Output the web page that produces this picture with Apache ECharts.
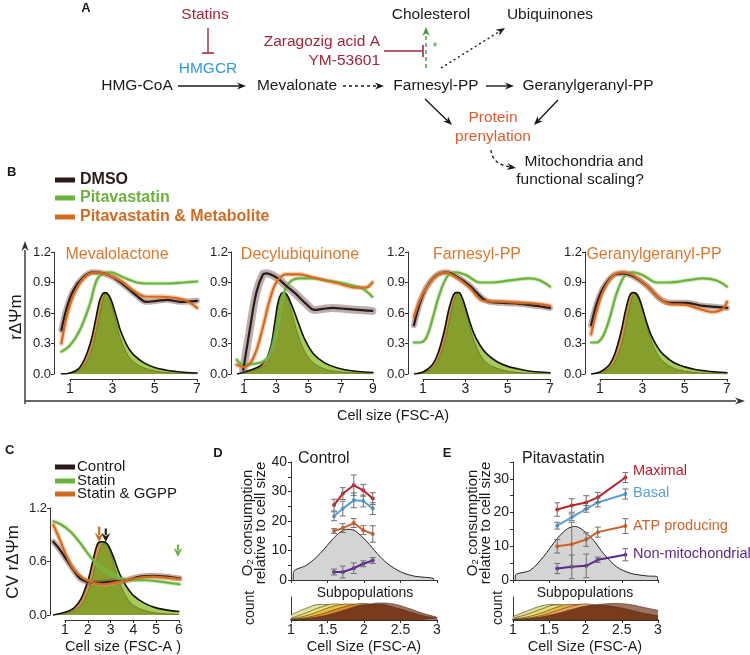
<!DOCTYPE html>
<html><head><meta charset="utf-8">
<script src="https://cdn.jsdelivr.net/npm/echarts/dist/echarts.min.js"></script>
<style>html,body{margin:0;padding:0;background:#fff;}#chart{width:750px;height:655px;}</style>
</head><body><div id="chart"></div>
<script>
const FONT = '"Liberation Sans", Arial, Helvetica, sans-serif';

// ---------------- Panel B data ----------------
const hx7 = [0.6,1.0,1.4,1.7,2.0,2.2,2.4,2.55,2.7,2.85,3.0,3.2,3.4,3.7,4.0,4.5,5.0,5.5,6.0,6.5,7.0];
const hx9 = [0.6,1.0,1.5,2.0,2.4,2.7,2.9,3.1,3.3,3.5,3.7,3.9,4.1,4.4,4.8,5.3,6.0,6.8,7.8,9.0];

const mevaHistDmso   = [0,0.01,0.05,0.15,0.33,0.52,0.72,0.79,0.8,0.77,0.7,0.56,0.42,0.28,0.19,0.11,0.065,0.04,0.025,0.015,0.01];
const mevaHistStatin = [0,0.005,0.03,0.09,0.22,0.38,0.58,0.72,0.8,0.76,0.66,0.49,0.34,0.2,0.12,0.06,0.03,0.015,0.008,0.004,0.002];
const mevaHistMetab  = [0,0.01,0.05,0.14,0.31,0.5,0.7,0.78,0.78,0.72,0.6,0.44,0.3,0.17,0.1,0.05,0.025,0.012,0.006,0.003,0];
const mevaLineDmso   = [[0.6,0.43],[0.84,0.64],[1.16,0.82],[1.63,0.95],[2.1,1.0],[2.58,0.99],[3.05,0.95],[3.7,0.85],[4.15,0.77],[4.6,0.71],[5.1,0.72],[5.6,0.73],[6.2,0.71],[7.0,0.72]];
const mevaLineMetab  = [[0.6,0.30],[0.84,0.56],[1.16,0.77],[1.63,0.94],[2.2,1.0],[2.74,0.98],[3.37,0.92],[4.0,0.82],[4.6,0.76],[5.27,0.76],[5.9,0.75],[6.5,0.72],[7.0,0.65]];
const mevaLineStatin = [[0.6,0.22],[1.0,0.28],[1.47,0.43],[1.95,0.69],[2.26,0.92],[2.58,0.99],[2.9,1.0],[3.53,0.95],[4.16,0.9],[4.8,0.89],[5.58,0.89],[6.37,0.9],[7.0,0.91]];

const decyHistDmso   = [0,0.02,0.045,0.08,0.15,0.3,0.5,0.7,0.79,0.8,0.77,0.7,0.62,0.49,0.33,0.2,0.11,0.06,0.03,0.015];
const decyHistStatin = [0,0.01,0.03,0.06,0.1,0.2,0.38,0.6,0.76,0.8,0.75,0.64,0.52,0.36,0.21,0.11,0.05,0.025,0.01,0];
const decyHistMetab  = [0,0.015,0.04,0.075,0.14,0.28,0.47,0.66,0.76,0.77,0.7,0.58,0.46,0.31,0.17,0.09,0.04,0.02,0.01,0];
const decyLineDmso   = [[0.95,0.04],[1.35,0.43],[1.76,0.8],[2.17,0.98],[2.38,0.99],[3.0,0.95],[3.6,0.87],[4.2,0.79],[4.85,0.69],[5.36,0.63],[5.88,0.64],[6.5,0.65],[7.3,0.64],[8.1,0.63],[8.96,0.62]];
const decyLineMetab  = [[0.55,0.09],[0.94,0.07],[1.35,0.1],[1.76,0.23],[2.17,0.46],[2.58,0.72],[3.0,0.9],[3.6,0.98],[4.4,0.98],[5.26,0.95],[6.08,0.92],[6.9,0.89],[7.93,0.85],[8.55,0.85],[8.96,0.9]];
const decyLineStatin = [[0.55,0.14],[0.94,0.09],[1.56,0.1],[2.17,0.12],[2.58,0.19],[3.0,0.43],[3.4,0.76],[3.82,0.9],[4.44,0.94],[5.26,0.94],[6.08,0.92],[6.9,0.9],[7.73,0.87],[8.35,0.84],[8.96,0.76]];

const farnHistDmso   = [0,0.02,0.08,0.2,0.42,0.62,0.76,0.8,0.8,0.75,0.66,0.52,0.4,0.28,0.2,0.12,0.075,0.05,0.03,0.02,0.012];
const farnHistStatin = [0,0.01,0.05,0.13,0.3,0.48,0.68,0.77,0.8,0.75,0.64,0.47,0.33,0.19,0.11,0.055,0.027,0.013,0.006,0.003,0];
const farnHistMetab  = [0,0.02,0.08,0.19,0.4,0.6,0.75,0.79,0.78,0.7,0.6,0.44,0.31,0.18,0.1,0.05,0.025,0.012,0.006,0.003,0];
const farnLineDmso   = [[0.57,0.48],[0.84,0.69],[1.16,0.85],[1.63,0.97],[2.1,1.0],[2.58,0.96],[3.2,0.87],[3.84,0.74],[4.16,0.71],[4.8,0.7],[5.58,0.69],[6.37,0.67],[7.0,0.65]];
const farnLineMetab  = [[0.57,0.56],[0.84,0.72],[1.16,0.85],[1.63,0.97],[2.03,1.0],[2.58,0.95],[3.2,0.85],[3.84,0.72],[4.8,0.71],[5.58,0.7],[6.37,0.69],[7.0,0.67]];
const farnLineStatin = [[0.57,0.31],[0.84,0.31],[1.16,0.36],[1.47,0.56],[1.79,0.79],[2.18,0.97],[2.58,1.0],[3.05,0.97],[3.69,0.9],[4.32,0.9],[5.1,0.92],[6.05,0.94],[6.53,0.92],[7.0,0.86]];

const ggppHistDmso   = [0,0.02,0.08,0.2,0.42,0.62,0.77,0.8,0.79,0.74,0.65,0.51,0.39,0.27,0.19,0.11,0.07,0.045,0.03,0.02,0.012];
const ggppHistStatin = [0,0.01,0.05,0.12,0.28,0.46,0.66,0.77,0.8,0.76,0.66,0.49,0.34,0.2,0.12,0.055,0.027,0.013,0.006,0.003,0];
const ggppHistMetab  = [0,0.02,0.08,0.19,0.41,0.61,0.76,0.8,0.77,0.69,0.58,0.43,0.3,0.17,0.1,0.05,0.025,0.012,0.006,0.003,0];
const ggppLineDmso   = [[0.58,0.48],[0.84,0.69],[1.16,0.85],[1.63,0.97],[2.1,0.99],[2.57,0.96],[3.2,0.87],[3.83,0.74],[4.3,0.7],[5.08,0.7],[5.87,0.67],[6.5,0.66],[7.0,0.65]];
const ggppLineMetab  = [[0.58,0.39],[0.84,0.62],[1.16,0.82],[1.63,0.97],[2.1,1.0],[2.57,0.97],[3.2,0.87],[3.83,0.74],[4.3,0.69],[5.08,0.68],[5.7,0.64],[6.34,0.61],[6.8,0.64],[7.0,0.71]];
const ggppLineStatin = [[0.58,0.31],[0.84,0.31],[1.16,0.38],[1.47,0.56],[1.78,0.79],[2.18,0.97],[2.57,1.0],[3.04,0.97],[3.67,0.9],[4.3,0.9],[5.08,0.92],[5.87,0.94],[6.5,0.92],[7.0,0.86]];

const bTitles = ['Mevalolactone','Decylubiquinone','Farnesyl-PP','Geranylgeranyl-PP'];
const bLegend = ['DMSO','Pitavastatin','Pitavastatin & Metabolite'];

// ---------------- Panel C data ----------------
const hc = [0.5,1.0,1.4,1.7,2.0,2.2,2.4,2.55,2.7,2.85,3.0,3.2,3.4,3.7,4.0,4.5,5.0,5.5,6.0];
const cHistCtrl   = [0,0.03,0.08,0.18,0.38,0.58,0.78,0.82,0.82,0.8,0.73,0.6,0.46,0.32,0.22,0.13,0.08,0.055,0.04];
const cHistStatin = [0,0.015,0.05,0.11,0.25,0.42,0.62,0.74,0.8,0.79,0.7,0.52,0.36,0.2,0.11,0.05,0.022,0.01,0.005];
const cHistGgpp   = [0,0.03,0.08,0.17,0.36,0.56,0.76,0.8,0.79,0.72,0.6,0.45,0.32,0.18,0.1,0.045,0.02,0.01,0.005];
const cLineCtrl   = [[0.49,0.82],[0.78,0.73],[1.07,0.62],[1.36,0.51],[1.66,0.41],[1.95,0.375],[2.53,0.36],[3.11,0.375],[3.7,0.39],[4.28,0.43],[4.86,0.44],[5.45,0.43],[6.03,0.41]];
const cLineStatin = [[0.49,1.05],[0.78,1.02],[1.22,0.94],[1.66,0.81],[2.09,0.66],[2.53,0.54],[2.97,0.47],[3.4,0.41],[3.99,0.39],[4.57,0.39],[5.15,0.375],[5.59,0.36],[6.03,0.345]];
const cLineGgpp   = [[0.49,1.01],[0.78,0.84],[1.07,0.66],[1.36,0.52],[1.8,0.41],[2.24,0.36],[2.68,0.345],[3.11,0.36],[3.7,0.39],[4.28,0.42],[4.86,0.43],[5.45,0.42],[6.03,0.405]];
const cArrowX    = [2.5, 2.79, 5.96];
const cArrowFrom = [0.99, 0.97, 0.79];
const cArrowTo   = [0.82, 0.82, 0.65];
const cLegend = ['Control','Statin','Statin & GGPP'];

// ---------------- Panels D / E data ----------------
const dX = [1.59,1.71,1.86,1.99,2.12];
const dMaximal = [25.4,29.3,32.1,30.4,27.6];  const dMaximalErr = [2,2,3.5,2,2];
const dBasal   = [21.6,24.2,27.0,26.8,24.2];  const dBasalErr   = [1.5,2.5,2.5,2,2];
const dATP     = [16.6,17.6,19.3,16.9,15.6];  const dATPErr     = [0.8,1.5,1.5,1.5,2.8];
const dNonMito = [2.7,2.7,4.0,5.5,6.6];       const dNonMitoErr = [1,2,1.8,1,1];
const dDensX = [1.03,1.035,1.22,1.4,1.58,1.68,1.77,1.86,1.95,2.04,2.18,2.32,2.5,2.68,2.95,2.955];
const dDensY = [0,2.8,5.1,9.0,14.1,16.3,17.2,16.9,15.2,13.0,9.0,5.6,2.8,1.35,0.56,0];

const eX = [1.61,1.81,2.01,2.17,2.55];
const eMaximal = [20.9,22.1,23.0,24.5,30.4];  const eMaximalErr = [2,2,2,1.5,1.5];
const eBasal   = [16.1,18.6,21.1,23.0,25.5];  const eBasalErr   = [1,1,1,1.3,1.5];
const eATP     = [10.0,10.6,12.0,14.2,16.0];  const eATPErr     = [2,6.5,2,1.5,2.2];
const eNonMito = [3.4,3.9,4.2,6.0,7.5];       const eNonMitoErr = [1.5,3.5,3.5,0.8,1.8];
const eDensX = [1.03,1.035,1.24,1.42,1.61,1.75,1.86,1.97,2.11,2.25,2.43,2.62,2.85,2.99,2.995];
const eDensY = [0,1.5,2.9,6.9,12.3,15.2,15.9,14.7,11.8,7.8,3.9,2.0,1.2,1.0,0];

const measures = ['Maximal','Basal','ATP producing','Non-mitochondrial'];

const subX = [1.0,1.2,1.4,1.6,1.8,2.0,2.2,2.4,2.6,2.8,3.0];
const dSub1 = [0.22,0.5,0.68,0.62,0.42,0.22,0.09,0.03,0.01,0,0];
const dSub2 = [0.08,0.3,0.55,0.7,0.6,0.38,0.18,0.07,0.02,0,0];
const dSub3 = [0.05,0.18,0.4,0.62,0.7,0.55,0.32,0.14,0.05,0.01,0];
const dSub4 = [0.03,0.1,0.25,0.45,0.64,0.72,0.6,0.38,0.18,0.06,0.02];
const dSub5 = [0.01,0.04,0.1,0.2,0.38,0.6,0.74,0.7,0.52,0.3,0.12];
const dSub6 = [0.02,0.06,0.15,0.3,0.5,0.66,0.68,0.56,0.38,0.2,0.08];
const eSub1 = [0.15,0.4,0.62,0.68,0.5,0.28,0.12,0.04,0.01,0,0];
const eSub2 = [0.08,0.25,0.48,0.66,0.62,0.42,0.2,0.08,0.02,0,0];
const eSub3 = [0.04,0.14,0.32,0.55,0.68,0.62,0.4,0.2,0.07,0.02,0];
const eSub4 = [0.02,0.08,0.2,0.4,0.6,0.7,0.6,0.38,0.18,0.06,0.02];
const eSub5 = [0.01,0.04,0.1,0.22,0.4,0.58,0.68,0.72,0.68,0.55,0.42];
const eSub6 = [0.02,0.06,0.14,0.28,0.45,0.6,0.64,0.58,0.45,0.3,0.18];

// ---------------- styling ----------------
const C_DMSO='#2b1c19', C_STAT='#6cb33c', C_MET='#d36a1f';
const R_DMSO='rgba(105,75,70,0.45)', R_STAT='rgba(150,205,110,0.45)', R_MET='rgba(235,160,100,0.5)';
const H_LIGHT='#a7ca5c', H_OLIVE='#869e2b', H_ORANGE='#d59048';
const AX='#333', TXT='#1a1a1a';
const M_COLORS=['#c0202b','#5b9fd9','#cf6228','#5a2a88'];
const SUB_COLORS_D=['#dde69a','#ebe37c','#e9c03a','#d98a2c','#a07462','#7a3b1c'];
const SUB_COLORS_E=['#d9e38e','#ece27c','#e9bd3c','#eea262','#a07462','#7a3b1c'];

const pairs=(xs,ys)=>xs.map((x,i)=>[x,ys[i]]);

const grids=[
 {left:54,top:252,width:143,height:122},
 {left:231,top:252,width:142,height:122},
 {left:408,top:252,width:142,height:122},
 {left:585,top:252,width:142,height:122},
 {left:70,top:378,width:127,height:1},
 {left:244,top:378,width:129,height:1},
 {left:423,top:378,width:127,height:1},
 {left:600,top:378,width:127,height:1},
 {left:50,top:508,width:130,height:107},
 {left:65,top:619,width:114,height:1},
 {left:291,top:462,width:146,height:118},
 {left:291,top:597,width:146,height:23},
 {left:513,top:462,width:145,height:118},
 {left:513,top:597,width:145,height:23}
];
const lbl={fontFamily:FONT,color:'#222',fontSize:13};
const hidden=(gi,min,max)=>({gridIndex:gi,type:'value',min,max,show:false});
const bMin=[0.25,0.19,0.29,0.29], bMax=[7,9,7,7];
const xAxes=[], yAxes=[];
for(let i=0;i<4;i++){ xAxes.push(hidden(i,bMin[i],bMax[i])); yAxes.push({gridIndex:i,type:'value',min:0,max:1.2,interval:0.3,
  axisLine:{show:true,lineStyle:{color:AX}},axisTick:{show:true,length:3,lineStyle:{color:AX}},splitLine:{show:false},
  axisLabel:Object.assign({},lbl,{margin:3,formatter:v=>v.toFixed(1)})}); }
for(let i=0;i<4;i++){ xAxes.push({gridIndex:4+i,type:'value',min:1,max:bMax[i],interval:2,axisLine:{lineStyle:{color:AX}},
  axisTick:{length:3,lineStyle:{color:AX}},splitLine:{show:false},axisLabel:Object.assign({},lbl,{fontSize:14,margin:3})});
  yAxes.push(hidden(4+i,0,1)); }
xAxes.push(hidden(8,0.34,6.05));
yAxes.push({gridIndex:8,type:'value',min:0,max:1.2,interval:0.6,axisLine:{show:true,lineStyle:{color:AX}},axisTick:{show:true,length:3,lineStyle:{color:AX}},splitLine:{show:false},axisLabel:Object.assign({},lbl,{margin:3,formatter:v=>v.toFixed(1)})});
xAxes.push({gridIndex:9,type:'value',min:1,max:6,interval:1,axisLine:{lineStyle:{color:AX}},axisTick:{length:3,lineStyle:{color:AX}},splitLine:{show:false},axisLabel:Object.assign({},lbl,{fontSize:14,margin:3})});
yAxes.push(hidden(9,0,1));
[[10,40],[12,35]].forEach(([gi,ymax])=>{
  xAxes.push({gridIndex:gi,type:'value',min:1,max:3,interval:0.5,axisLine:{lineStyle:{color:AX}},axisTick:{length:3,lineStyle:{color:AX}},axisLabel:{show:false},splitLine:{show:false}});
  yAxes.push({gridIndex:gi,type:'value',min:0,max:ymax,interval:5,axisLine:{show:true,lineStyle:{color:AX}},axisTick:{show:true,length:3,lineStyle:{color:AX}},splitLine:{show:false},
    axisLabel:Object.assign({},lbl,{fontSize:14,margin:4,formatter:v=>(v%10===0?String(v):'')})});
  xAxes.push({gridIndex:gi+1,type:'value',min:1,max:3,interval:0.5,axisLine:{lineStyle:{color:AX}},axisTick:{length:3,lineStyle:{color:AX}},splitLine:{show:false},axisLabel:Object.assign({},lbl,{fontSize:14,margin:3})});
  yAxes.push({gridIndex:gi+1,type:'value',min:0,max:1,axisLine:{show:true,lineStyle:{color:AX}},axisTick:{show:false},axisLabel:{show:false},splitLine:{show:false}});
});

const series=[];
function addLine(gi,data,o){
  const s={type:'line',xAxisIndex:gi,yAxisIndex:gi,data,symbol:'none',smooth:(o.smooth!==undefined?o.smooth:0.35),
    silent:true,z:o.z||2,lineStyle:{color:o.color,width:(o.width!==undefined?o.width:1),cap:'round',join:'round'}};
  if(o.area) s.areaStyle={color:o.area,opacity:1};
  series.push(s);
}
const bHist=[[hx7,mevaHistDmso,mevaHistStatin,mevaHistMetab],[hx9,decyHistDmso,decyHistStatin,decyHistMetab],[hx7,farnHistDmso,farnHistStatin,farnHistMetab],[hx7,ggppHistDmso,ggppHistStatin,ggppHistMetab]];
const bLines=[[mevaLineDmso,mevaLineStatin,mevaLineMetab],[decyLineDmso,decyLineStatin,decyLineMetab],[farnLineDmso,farnLineStatin,farnLineMetab],[ggppLineDmso,ggppLineStatin,ggppLineMetab]];
function histAndLines(gi,hx,hd,hs,hm,ld,ls,lm,ribbonW){
  addLine(gi,pairs(hx,hd),{color:'#000',width:0,area:H_LIGHT,z:1});
  addLine(gi,pairs(hx,hm),{color:'#a86028',width:0.6,area:H_ORANGE,z:2});
  addLine(gi,pairs(hx,hs),{color:'#5f7c1e',width:0.8,area:H_OLIVE,z:3});
  addLine(gi,pairs(hx,hd),{color:'#111',width:1.6,z:4});
  addLine(gi,ld,{color:R_DMSO,width:ribbonW,z:5});
  addLine(gi,lm,{color:R_MET,width:5,z:5});
  addLine(gi,ls,{color:R_STAT,width:4,z:5});
  addLine(gi,ls,{color:C_STAT,width:2.2,z:6});
  addLine(gi,ld,{color:C_DMSO,width:2.2,z:6});
  addLine(gi,lm,{color:C_MET,width:2.2,z:7});
}
for(let i=0;i<4;i++){ const h=bHist[i], l=bLines[i]; histAndLines(i,h[0],h[1],h[2],h[3],l[0],l[1],l[2],i===1?8:6); }
histAndLines(8,hc,cHistCtrl,cHistStatin,cHistGgpp,cLineCtrl,cLineStatin,cLineGgpp,6);

const arrowCols=[C_MET,C_DMSO,C_STAT];
series.push({type:'custom',xAxisIndex:8,yAxisIndex:8,z:10,silent:true,
  data:cArrowX.map((x,i)=>[x,cArrowFrom[i],cArrowTo[i],i]),
  renderItem:(p,api)=>{const a=api.coord([api.value(0),api.value(1)]), b=api.coord([api.value(0),api.value(2)]);
    const col=arrowCols[api.value(3)], L=9, W=4.5;
    return {type:'group',children:[
      {type:'line',shape:{x1:a[0],y1:a[1],x2:b[0],y2:b[1]-L+2},style:{stroke:col,lineWidth:2.2}},
      {type:'polygon',shape:{points:[[b[0],b[1]],[b[0]-W,b[1]-L],[b[0],b[1]-L+3],[b[0]+W,b[1]-L]]},style:{fill:col}}]};}});

function errRender(p,api){
  const a=api.coord([api.value(0),api.value(1)]), b=api.coord([api.value(0),api.value(2)]);
  const st={stroke:'#707070',lineWidth:1}, w=3;
  return {type:'group',children:[
    {type:'line',shape:{x1:a[0],y1:a[1],x2:b[0],y2:b[1]},style:st},
    {type:'line',shape:{x1:a[0]-w,y1:a[1],x2:a[0]+w,y2:a[1]},style:st},
    {type:'line',shape:{x1:b[0]-w,y1:b[1],x2:b[0]+w,y2:b[1]},style:st}]};
}
function oxyPanel(gi,xs,densX,densY,vals,errs,subs,subCols){
  addLine(gi,pairs(densX,densY),{color:'#222',width:1,area:'#d4d4d4',z:1,smooth:0.3});
  vals.forEach((v,k)=>{
    series.push({type:'line',xAxisIndex:gi,yAxisIndex:gi,data:pairs(xs,v),symbol:'circle',symbolSize:4,silent:true,z:3,
      lineStyle:{color:M_COLORS[k],width:2},itemStyle:{color:M_COLORS[k]}});
    series.push({type:'custom',xAxisIndex:gi,yAxisIndex:gi,z:4,silent:true,renderItem:errRender,
      data:xs.map((x,i)=>[x,v[i]-errs[k][i],v[i]+errs[k][i]])});
  });
  subs.forEach((s,k)=>addLine(gi+1,pairs(subX,s),{color:'#4a3222',width:0.6,area:subCols[k],z:1+k,smooth:0.4}));
}
oxyPanel(10,dX,dDensX,dDensY,[dMaximal,dBasal,dATP,dNonMito],[dMaximalErr,dBasalErr,dATPErr,dNonMitoErr],[dSub1,dSub2,dSub3,dSub4,dSub5,dSub6],SUB_COLORS_D);
oxyPanel(12,eX,eDensX,eDensY,[eMaximal,eBasal,eATP,eNonMito],[eMaximalErr,eBasalErr,eATPErr,eNonMitoErr],[eSub1,eSub2,eSub3,eSub4,eSub5,eSub6],SUB_COLORS_E);

const G=[];
function T(x,y,text,o={}){
  const al=o.align||'center';
  G.push({type:'text',x,y,rotation:o.rot||0,z:100,silent:true,style:{text,fill:o.color||TXT,
    font:`${o.weight||'normal'} ${o.size||15.5}px ${FONT}`,textAlign:al,align:al,textVerticalAlign:'middle',verticalAlign:'middle'}});
}
function L(x1,y1,x2,y2,col,w,dash){ G.push({type:'line',silent:true,z:90,shape:{x1,y1,x2,y2},style:{stroke:col,lineWidth:w||1.3,lineDash:dash||null}}); }
function head(x2,y2,ang,col,len){ const l=len||9, w=3.6;
  const bx=x2-l*Math.cos(ang), by=y2-l*Math.sin(ang), nx=x2-0.7*l*Math.cos(ang), ny=y2-0.7*l*Math.sin(ang);
  const px=-Math.sin(ang)*w, py=Math.cos(ang)*w;
  G.push({type:'polygon',silent:true,z:91,shape:{points:[[x2,y2],[bx+px,by+py],[nx,ny],[bx-px,by-py]]},style:{fill:col}});
  return [nx,ny]; }
function A(x1,y1,x2,y2,col,dash,w){ const ang=Math.atan2(y2-y1,x2-x1); const n=head(x2,y2,ang,col); L(x1,y1,n[0],n[1],col,w||1.4,dash); }

const RED='#a3243a', BLUE='#2d9be0', PREN='#e05a2b', GREEN='#3d9a3a', K='#1a1a1a';
T(86,8,'A',{weight:'bold',size:13});
T(205,15,'Statins',{color:RED});
L(208,28,208,53,RED,1.4); L(202,53,214,53,RED,1.6);
T(208,69,'HMGCR',{color:BLUE});
T(137,86,'HMG-CoA'); A(178,86,246,86,K);
T(297,86,'Mevalonate'); A(343,86,384,86,K,[3,3]);
T(436,86,'Farnesyl-PP'); A(486,86,514,86,K);
T(588,86,'Geranylgeranyl-PP');
T(431,15,'Cholesterol'); T(550,15,'Ubiquinones');
T(380,42,'Zaragozig acid A',{color:RED,align:'right'});
T(380,61,'YM-53601',{color:RED,align:'right'});
L(384,51,422,51,RED,1.4); L(423,45,423,57,RED,1.6);
A(426,68,426,27,GREEN,[4,3]);
T(435,48,'*',{color:GREEN,size:12});
A(441,68,505,28,K,[2,3]);
A(425,99,452,125,K);
A(558,100,534,125,K);
T(493,118,'Protein',{color:PREN}); T(493,137,'prenylation',{color:PREN});
G.push({type:'bezierCurve',silent:true,z:90,shape:{x1:491,y1:150,x2:510,y2:167,cpx1:492,cpy1:164},style:{stroke:K,lineWidth:1.3,lineDash:[3,3],fill:null}});
head(516,168,Math.atan2(1,6),K);
T(584,162,'Mitochondria and'); T(580,180,'functional scaling?');

T(7,172,'B',{weight:'bold',size:13,align:'left'});
const bLegCols=[C_DMSO,C_STAT,C_MET], bLegY=[180,198,217];
bLegend.forEach((s,i)=>{ L(55,bLegY[i],75,bLegY[i],bLegCols[i],5); T(80,bLegY[i],s,{color:bLegCols[i],weight:'bold',size:16,align:'left'}); });
const bTitleX=[117,300,477,654];
bTitles.forEach((s,i)=>T(bTitleX[i],255,s,{color:'#d9782e',size:16}));
L(25,404,25,250,AX,1.4); head(25,241,-Math.PI/2,AX,10);
L(25,401,736,401,AX,1.4); head(745,401,0,AX,10);
T(16,317,'rΔΨm',{rot:Math.PI/2,size:17});
T(393,416,'Cell size (FSC-A)',{size:14.5});

T(5,450,'C',{weight:'bold',size:13,align:'left'});
const cLegY=[467,481,494];
cLegend.forEach((s,i)=>{ L(55,cLegY[i],75,cLegY[i],bLegCols[i],5); T(77,cLegY[i],s,{size:15,align:'left'}); });
T(13,562,'CV rΔΨm',{rot:Math.PI/2,size:17});
T(123,647,'Cell size (FSC-A )',{size:14.5});

T(218,453,'D',{weight:'bold',size:13});
T(298,459,'Control',{size:16,align:'left'});
T(248,523,'O\u2082 consumption',{rot:Math.PI/2,size:15});
T(261,523,'relative to cell size',{rot:Math.PI/2,size:15});
T(365,593,'Subpopulations',{size:14});
T(250,608,'count',{rot:Math.PI/2,size:14});
T(364,647,'Cell Size (FSC-A)',{size:14.5});

T(447,453,'E',{weight:'bold',size:13});
T(522,459,'Pitavastatin',{size:16,align:'left'});
T(473,523,'O\u2082 consumption',{rot:Math.PI/2,size:15});
T(486,523,'relative to cell size',{rot:Math.PI/2,size:15});
T(585,593,'Subpopulations',{size:14});
T(498,608,'count',{rot:Math.PI/2,size:14});
T(585,647,'Cell Size (FSC-A)',{size:14.5});
const eLabY=[471,493,526,554];
measures.forEach((s,i)=>T(633,eLabY[i],s,{color:M_COLORS[i],size:14.5,align:'left'}));

const chart=echarts.init(document.getElementById('chart'),null,{renderer:'canvas'});
chart.setOption({animation:false,backgroundColor:'#fff',grid:grids,xAxis:xAxes,yAxis:yAxes,series,graphic:{elements:G}});
</script></body></html>
